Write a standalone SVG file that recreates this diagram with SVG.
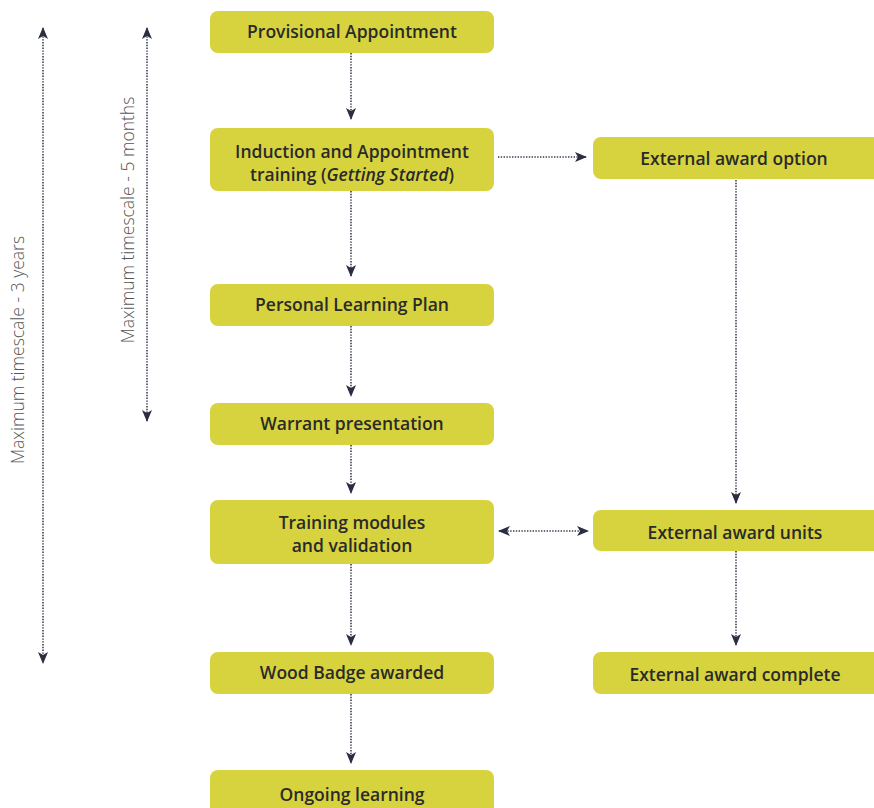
<svg xmlns="http://www.w3.org/2000/svg" width="874" height="808" viewBox="0 0 874 808">
<defs>
<style>
.box{fill:#d6d33e;}
.t{font-family:"Open Sans","Liberation Sans",sans-serif;font-weight:600;font-size:17.5px;fill:#2a2a2a;text-anchor:middle;}
.side{font-family:"Open Sans","Liberation Sans",sans-serif;font-weight:300;font-size:17.5px;fill:#555;text-anchor:middle;}
.c{stroke:#3a3c4e;stroke-width:1.6;stroke-dasharray:1.4 1.4;fill:none;}
</style>
<marker id="ah" viewBox="0 0 12 10" refX="11" refY="5" markerWidth="14" markerHeight="10" markerUnits="userSpaceOnUse" orient="auto-start-reverse">
<path d="M0,0 L12,5 L0,10 L3,5 Z" fill="#2b2d42"/>
</marker>
</defs>
<rect width="874" height="808" fill="#fff"/>
<g id="connectors">
<line class="c" x1="351" y1="53" x2="351" y2="119" marker-end="url(#ah)"/>
<line class="c" x1="351" y1="191" x2="351" y2="276" marker-end="url(#ah)"/>
<line class="c" x1="351" y1="326" x2="351" y2="396" marker-end="url(#ah)"/>
<line class="c" x1="351" y1="445" x2="351" y2="493" marker-end="url(#ah)"/>
<line class="c" x1="351" y1="564" x2="351" y2="645" marker-end="url(#ah)"/>
<line class="c" x1="351" y1="694" x2="351" y2="763" marker-end="url(#ah)"/>
<line class="c" x1="498" y1="157" x2="586" y2="157" marker-end="url(#ah)"/>
<line class="c" x1="736" y1="180" x2="736" y2="503" marker-end="url(#ah)"/>
<line class="c" x1="499" y1="531" x2="588" y2="531" marker-start="url(#ah)" marker-end="url(#ah)"/>
<line class="c" x1="736" y1="551" x2="736" y2="645" marker-end="url(#ah)"/>
<line class="c" x1="43" y1="28" x2="43" y2="663" marker-start="url(#ah)" marker-end="url(#ah)"/>
<line class="c" x1="147" y1="28" x2="147" y2="421" marker-start="url(#ah)" marker-end="url(#ah)"/>
</g>
<text class="side" transform="translate(24,350) rotate(-90)">Maximum timescale - 3 years</text>
<text class="side" transform="translate(134,220) rotate(-90)">Maximum timescale - 5 months</text>
<g id="n1"><rect class="box" x="210" y="11" width="284" height="42" rx="8"/><text class="t" x="352" y="38">Provisional Appointment</text></g>
<g id="n2"><rect class="box" x="210" y="128" width="284" height="63" rx="8"/><text class="t" x="352" y="158">Induction and Appointment</text><text class="t" x="352" y="181">training (<tspan font-style="italic">Getting Started</tspan>)</text></g>
<g id="n3"><rect class="box" x="210" y="284" width="284" height="42" rx="8"/><text class="t" x="352" y="311">Personal Learning Plan</text></g>
<g id="n4"><rect class="box" x="210" y="403" width="284" height="42" rx="8"/><text class="t" x="352" y="430">Warrant presentation</text></g>
<g id="n5"><rect class="box" x="210" y="500" width="284" height="64" rx="8"/><text class="t" x="352" y="529">Training modules</text><text class="t" x="352" y="552">and validation</text></g>
<g id="n6"><rect class="box" x="210" y="652" width="284" height="42" rx="8"/><text class="t" x="352" y="679">Wood Badge awarded</text></g>
<g id="n7"><rect class="box" x="210" y="770" width="284" height="48" rx="8"/><text class="t" x="352" y="801">Ongoing learning</text></g>
<g id="n8"><rect class="box" x="593" y="137" width="290" height="42" rx="8"/><text class="t" x="734" y="165">External award option</text></g>
<g id="n9"><rect class="box" x="593" y="510" width="290" height="41" rx="8"/><text class="t" x="735" y="539">External award units</text></g>
<g id="n10"><rect class="box" x="593" y="652" width="290" height="42" rx="8"/><text class="t" x="735" y="681">External award complete</text></g>
</svg>
